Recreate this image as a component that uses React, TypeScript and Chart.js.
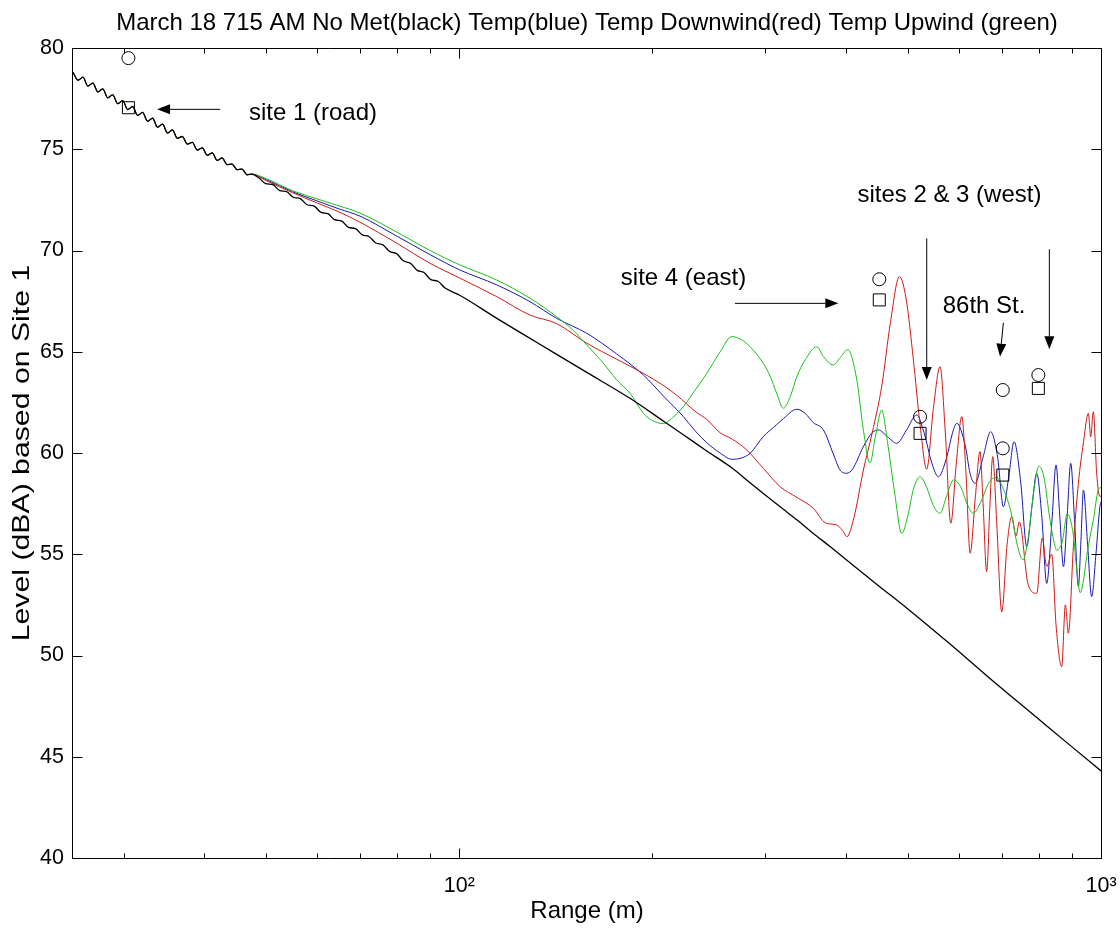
import React, { useEffect, useRef } from "react";
import { Chart, registerables } from "chart.js";

Chart.register(...registerables);

const FONT = '"Liberation Sans", Arial, Helvetica, sans-serif';

const titleText =
  "March 18 715 AM No Met(black) Temp(blue) Temp Downwind(red) Temp Upwind (green)";
const yLabelText = "Level (dBA) based on Site 1";

// Near-field part, where the four runs coincide (rippled decay)
const nearRange = [
  25.0, 25.45, 25.91, 26.37, 26.85, 27.33, 27.82, 28.32, 28.83, 29.35, 29.88, 30.42, 30.97,
  31.52, 32.09, 32.67, 33.26, 33.86, 34.47, 35.09, 35.72, 36.36, 37.01, 37.68, 38.36, 39.05,
  39.75, 40.47, 41.2, 41.94, 42.69, 43.46, 44.24, 45.04, 45.85, 46.68, 47.52,
];
const nearLevel = [
  78.8, 78.41, 78.56, 78.12, 78.27, 77.83, 77.98, 77.54, 77.69, 77.25, 77.4, 76.96, 77.11,
  76.67, 76.82, 76.38, 76.53, 76.09, 76.24, 75.8, 75.95, 75.54, 75.63, 75.25, 75.34, 74.96,
  75.07, 74.7, 74.82, 74.45, 74.57, 74.24, 74.27, 73.99, 74.02, 73.74, 73.77,
];

// No Met (black)
const noMetRange = [
  48.7, 49.9, 51.2, 52.5, 53.8, 55.1, 56.5, 57.9, 59.4, 60.9, 62.4, 63.9, 65.5, 67.2, 68.9,
  70.6, 72.3, 74.1, 76.0, 77.9, 79.8, 81.8, 83.9, 86.0, 88.1, 90.3, 92.6, 94.9, 100, 114.4,
  128.9, 141.8, 158, 184.5, 207.9, 223.4, 243, 265.8, 283.8, 297.7, 319.9, 335.7, 356.2, 378.2,
  400, 450, 500, 580, 663.6, 730, 800, 900, 1000,
];
const noMetLevel = [
  73.59, 73.3, 73.25, 72.96, 72.91, 72.63, 72.56, 72.26, 72.19, 71.88, 71.82, 71.52, 71.46,
  71.14, 71.08, 70.77, 70.69, 70.37, 70.28, 69.95, 69.85, 69.49, 69.37, 69.02, 68.91, 68.56,
  68.48, 68.16, 67.8, 66.65, 65.66, 64.87, 63.98, 62.7, 61.58, 60.9, 60.1, 59.27, 58.53, 58.0,
  57.22, 56.7, 56.03, 55.38, 54.75, 53.45, 52.3, 50.6, 49.0, 47.9, 46.85, 45.5, 44.3,
];

// Temp (blue)
const tempRange = [
  50, 55, 60, 65, 70, 80, 90, 100, 114.4, 128.9, 141.8, 158, 175.9, 193.6, 207.9, 223.4, 233,
  243, 254.9, 265.8, 275, 283.8, 297.7, 312.3, 320, 335.7, 346, 356.2, 369.3, 382.7, 392, 401.6,
  410, 426, 440, 449.8, 465, 480.4, 497, 516.2, 530, 545, 557.9, 575, 587, 596, 615, 625, 636.4,
  655, 673, 690, 704.5, 718, 732, 750, 766, 780, 794, 808, 823, 838, 851, 862, 874, 886, 897,
  910, 922, 930, 939, 953, 967, 982, 996, 1000,
];
const tempLevel = [
  73.5, 72.9, 72.45, 72.05, 71.7, 70.7, 69.8, 69.05, 68.3, 67.47, 66.65, 65.91, 64.89, 63.85,
  62.82, 61.8, 61.1, 60.51, 60.0, 59.69, 59.75, 59.98, 60.81, 61.4, 61.7, 62.16, 61.95, 61.5,
  61.14, 59.95, 59.16, 59.0, 59.2, 60.3, 61.0, 61.14, 60.8, 60.48, 61.1, 61.88, 61.0, 59.5,
  58.83, 59.8, 61.0, 61.47, 60.3, 59.0, 58.5, 59.8, 61.05, 59.8, 57.35, 58.8, 60.56, 58.5,
  55.37, 57.3, 59.0, 57.0, 53.56, 56.5, 59.41, 57.0, 54.38, 57.0, 59.49, 56.5, 53.4, 55.5,
  58.17, 55.5, 52.9, 55.0, 57.35, 57.6,
];

// Temp Downwind (red)
const downwindRange = [
  50, 55, 60, 65, 70, 80, 90, 100, 114.4, 128.9, 141.8, 158, 175.9, 193.6, 207.9, 218.2, 234.4,
  243, 254.9, 265.8, 280.5, 297.7, 316.1, 335.7, 356.2, 372, 387, 395, 402, 412, 426.3, 440,
  455.2, 470, 485.1, 497, 510.1, 522, 535, 548, 561.3, 572, 583.3, 595, 606.8, 616, 625.2, 637,
  647.7, 655, 663.4, 671, 678, 688, 700.3, 714, 725.9, 737, 746, 770, 794, 810, 823, 838, 851,
  868.5, 880, 889.6, 905.7, 922, 938.8, 955.7, 963.7, 972.8, 984.6, 996.4, 1000,
];
const downwindLevel = [
  73.45, 72.85, 72.35, 71.9, 71.4, 70.35, 69.37, 68.65, 67.72, 66.81, 66.39, 65.42, 64.63,
  63.93, 63.34, 62.85, 62.0, 61.66, 61.0, 60.7, 60.15, 59.24, 58.34, 57.81, 57.27, 56.55,
  56.45, 56.2, 55.87, 56.8, 59.16, 61.0, 63.28, 66.5, 68.71, 67.6, 64.59, 61.5, 59.2, 62.2,
  64.26, 61.0, 56.53, 59.5, 61.8, 59.0, 55.05, 57.8, 60.07, 57.5, 54.14, 57.3, 59.82, 56.5,
  52.16, 55.5, 56.85, 55.9, 56.6, 53.5, 53.07, 55.8, 54.4, 55.0, 51.5, 49.45, 52.5, 51.1, 55.4,
  58.5, 60.5, 61.96, 60.8, 62.04, 59.0, 57.84, 57.9,
];

// Temp Upwind (green)
const upwindRange = [
  50, 55, 60, 65, 70, 80, 90, 100, 114.4, 128.9, 141.8, 150, 158, 167, 175.9, 184.5, 193.6, 200,
  207.9, 215, 223.4, 233, 243, 255, 265.8, 275, 283.8, 297.7, 305, 312.3, 319.9, 328, 335.7,
  346, 360.6, 369.3, 382.7, 392, 403, 416.4, 426, 436.5, 445, 455.2, 465, 477, 489.1, 500, 510,
  522.4, 535, 548, 561.3, 575, 588.9, 605, 620, 632.4, 650, 668, 686, 705, 725, 740, 755.8, 770,
  785, 800, 815, 830, 845, 853, 870, 886, 905, 917, 928, 940, 950, 962, 973, 990, 1000,
];
const upwindLevel = [
  73.55, 72.95, 72.55, 72.2, 71.85, 70.9, 70.0, 69.3, 68.54, 67.64, 66.73, 66.1, 65.33, 64.5,
  63.61, 62.95, 61.96, 61.6, 61.45, 61.75, 62.29, 63.1, 63.93, 65.0, 65.75, 65.6, 65.25, 64.43,
  63.8, 62.95, 62.21, 62.8, 63.77, 64.6, 65.25, 64.76, 64.35, 64.7, 65.1, 63.6, 61.2, 59.5,
  60.8, 62.12, 60.5, 58.0, 56.03, 56.9, 58.2, 58.83, 58.3, 57.4, 57.02, 57.9, 58.67, 58.3,
  57.4, 57.02, 57.6, 58.5, 58.8, 58.2, 57.0, 55.5, 54.72, 55.8, 58.0, 59.35, 58.8, 57.0, 55.6,
  55.21, 55.6, 57.0, 56.0, 54.2, 53.1, 53.8, 54.9, 55.9, 56.7, 58.17, 58.3,
];

// Measured levels (markers)
const circleRange = [30.5, 451.3, 522.4, 703, 703, 798.7];
const circleLevel = [79.5, 68.58, 61.79, 63.11, 60.23, 63.85];
const squareRange = [30.5, 451.3, 522.4, 703, 798.7];
const squareLevel = [77.05, 67.56, 60.97, 58.91, 63.19];

// Axis ticks
const yTickValues = [40, 45, 50, 55, 60, 65, 70, 75, 80];
const xMajorTicks = [100, 1000];
const xTickLabels = ["10\u00B2", "10\u00B3"];
const xMinorTicks = [30, 40, 50, 60, 70, 80, 90, 200, 300, 400, 500, 600, 700, 800, 900];

// Annotations (anchored in data coordinates)
const noteTexts = ["site 1 (road)", "site 4 (east)", "sites 2 & 3 (west)", "86th St."];
const noteRange = [47.0, 178.5, 417.2, 566.7];
const noteLevel = [76.79, 68.63, 72.74, 67.22];
const arrowFromRange = [42.4, 268.9, 535.1, 830.8, 704.5];
const arrowFromLevel = [76.97, 67.39, 70.6, 70.06, 66.43];
const arrowToRange = [33.8, 389.6, 535.1, 830.8, 696.1];
const arrowToLevel = [76.97, 67.39, 63.6, 65.12, 64.76];

function pts(xs: number[], ys: number[]) {
  return xs.map((x, i) => ({ x, y: ys[i] }));
}

function drawArrow(ctx: CanvasRenderingContext2D, x1: number, y1: number, x2: number, y2: number) {
  const ang = Math.atan2(y2 - y1, x2 - x1);
  const hl = 13;
  const hw = 5;
  const bx = x2 - hl * Math.cos(ang);
  const by = y2 - hl * Math.sin(ang);
  ctx.beginPath();
  ctx.moveTo(x1, y1);
  ctx.lineTo(bx, by);
  ctx.stroke();
  ctx.beginPath();
  ctx.moveTo(x2, y2);
  ctx.lineTo(bx + hw * Math.sin(ang), by - hw * Math.cos(ang));
  ctx.lineTo(bx - hw * Math.sin(ang), by + hw * Math.cos(ang));
  ctx.closePath();
  ctx.fill();
}

const framePlugin = {
  id: "matlabFrame",
  afterDatasetsDraw(chart: any) {
    const { ctx, chartArea: a, scales } = chart;
    const xs = scales.x;
    const ys = scales.y;
    ctx.save();
    ctx.strokeStyle = "#000";
    ctx.fillStyle = "#000";
    ctx.lineWidth = 1;
    const L = Math.round(a.left) - 0.5;
    const R = Math.round(a.right) + 0.5;
    const T = Math.round(a.top) + 0.5;
    const B = Math.round(a.bottom) + 0.5;
    ctx.beginPath();
    ctx.rect(L, T, R - L, B - T);
    ctx.stroke();
    ctx.beginPath();
    for (const v of yTickValues) {
      const p = Math.round(ys.getPixelForValue(v)) + 0.5;
      ctx.moveTo(L, p);
      ctx.lineTo(L + 10, p);
      ctx.moveTo(R, p);
      ctx.lineTo(R - 10, p);
    }
    for (const v of xMajorTicks) {
      const p = Math.round(xs.getPixelForValue(v)) + 0.5;
      ctx.moveTo(p, B);
      ctx.lineTo(p, B - 10);
      ctx.moveTo(p, T);
      ctx.lineTo(p, T + 10);
    }
    for (const v of xMinorTicks) {
      const p = Math.round(xs.getPixelForValue(v)) + 0.5;
      ctx.moveTo(p, B);
      ctx.lineTo(p, B - 5);
      ctx.moveTo(p, T);
      ctx.lineTo(p, T + 5);
    }
    ctx.stroke();

    for (let i = 0; i < arrowFromRange.length; i++) {
      drawArrow(
        ctx,
        xs.getPixelForValue(arrowFromRange[i]),
        ys.getPixelForValue(arrowFromLevel[i]),
        xs.getPixelForValue(arrowToRange[i]),
        ys.getPixelForValue(arrowToLevel[i])
      );
    }

    ctx.font = `24px ${FONT}`;
    ctx.textAlign = "left";
    ctx.textBaseline = "middle";
    for (let i = 0; i < noteTexts.length; i++) {
      ctx.fillText(noteTexts[i], xs.getPixelForValue(noteRange[i]), ys.getPixelForValue(noteLevel[i]));
    }

    // title, centred over the axes box as in the original figure
    ctx.textAlign = "center";
    ctx.textBaseline = "alphabetic";
    ctx.fillText(titleText, (a.left + a.right) / 2, a.top - 18.5);

    // y-axis label (the original figure shows it elongated along its baseline)
    ctx.save();
    ctx.translate(22, (a.top + a.bottom) / 2);
    ctx.rotate(-Math.PI / 2);
    ctx.scale(1.26, 1);
    ctx.textBaseline = "middle";
    ctx.fillText(yLabelText, 0, 0);
    ctx.restore();

    ctx.restore();
  },
};

export default function App() {
  const ref = useRef<HTMLCanvasElement>(null);

  useEffect(() => {
    const lineDs = (label: string, xs: number[], ys: number[], color: string, width: number, order: number) => ({
      label,
      data: pts(nearRange.concat(xs), nearLevel.concat(ys)),
      showLine: true,
      borderColor: color,
      backgroundColor: color,
      borderWidth: width,
      pointRadius: 0,
      cubicInterpolationMode: "monotone" as const,
      order,
    });

    const chart = new Chart(ref.current as HTMLCanvasElement, {
      type: "scatter",
      data: {
        datasets: [
          {
            label: "measured (circle)",
            data: pts(circleRange, circleLevel),
            pointStyle: "circle",
            pointRadius: 6.5,
            borderColor: "#000",
            backgroundColor: "rgba(0,0,0,0)",
            borderWidth: 1,
            order: 0,
          },
          {
            label: "measured (square)",
            data: pts(squareRange, squareLevel),
            pointStyle: "rect",
            pointRadius: 8.5,
            borderColor: "#000",
            backgroundColor: "rgba(0,0,0,0)",
            borderWidth: 1,
            order: 0,
          },
          lineDs("No Met", noMetRange, noMetLevel, "#000000", 1.3, 1),
          lineDs("Temp Upwind", upwindRange, upwindLevel, "#18c018", 1, 2),
          lineDs("Temp Downwind", downwindRange, downwindLevel, "#d01818", 1, 3),
          lineDs("Temp", tempRange, tempLevel, "#1818b0", 1, 4),
        ],
      },
      options: {
        responsive: false,
        animation: false,
        devicePixelRatio: 1,
        layout: { padding: { left: 0, top: 48, right: 19, bottom: 0 } },
        plugins: {
          legend: { display: false },
          tooltip: { enabled: false },
          title: { display: false },
        },
        scales: {
          x: {
            type: "logarithmic",
            position: "bottom",
            min: 25,
            max: 1000,
            afterBuildTicks: (s: any) => {
              s.ticks = xMajorTicks.map((v) => ({ value: v }));
            },
            afterFit: (s: any) => {
              s.height = 72;
              s.paddingLeft = 0;
              s.paddingRight = 0;
            },
            grid: { display: false, drawTicks: false },
            border: { display: false },
            ticks: {
              color: "#000",
              font: { family: FONT, size: 21.5 },
              padding: 15,
              maxRotation: 0,
              autoSkip: false,
              callback: (v: any) => {
                const i = xMajorTicks.indexOf(Number(v));
                return i >= 0 ? xTickLabels[i] : "";
              },
            },
            title: {
              display: true,
              text: "Range (m)",
              color: "#000",
              font: { family: FONT, size: 24 },
              padding: { top: 0, bottom: 4 },
            },
          },
          y: {
            type: "linear",
            min: 40,
            max: 80,
            afterBuildTicks: (s: any) => {
              s.ticks = yTickValues.map((v) => ({ value: v }));
            },
            afterFit: (s: any) => {
              s.width = 73;
              s.paddingTop = 0;
              s.paddingBottom = 0;
            },
            grid: { display: false, drawTicks: false },
            border: { display: false },
            ticks: {
              color: "#000",
              font: { family: FONT, size: 21.5 },
              padding: 9,
              callback: (v: any) => String(v),
            },
            title: { display: false },
          },
        },
      } as any,
      plugins: [framePlugin],
    });
    return () => chart.destroy();
  }, []);

  return (
    <div style={{ position: "fixed", left: 0, top: 0, width: 1120, height: 930, background: "#fff" }}>
      <canvas ref={ref} width={1120} height={930} style={{ display: "block", width: 1120, height: 930 }} />
    </div>
  );
}
